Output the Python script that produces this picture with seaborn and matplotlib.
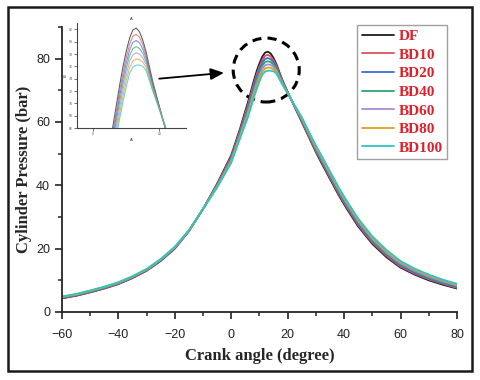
import numpy as np
import pandas as pd
import matplotlib
matplotlib.use("Agg")
import matplotlib.pyplot as plt
from matplotlib.patches import Ellipse, Rectangle
from matplotlib.ticker import MultipleLocator
import seaborn as sns

# crank angle (deg) and cylinder pressure (bar)
angle = [-60, -55, -50, -45, -40, -35, -30, -25, -20, -15, -10, -5, 0, 3, 6, 8, 9,
         10, 11, 12, 13, 14, 15, 16, 18, 21, 25, 28, 30, 32, 35, 38, 41, 45, 50,
         55, 60, 65, 70, 75, 80]

DF = [4.3, 5.1, 6.2, 7.4, 8.8, 10.7, 13.0, 16.1, 20.0, 25.5, 32.5, 40.5, 49.5,
      57.5, 66.5, 73.0, 76.0, 78.5, 80.6, 81.9, 82.2, 81.6, 80.2, 78.3, 73.5,
      67.5, 60.0, 54.3, 50.5, 47.0, 42.0, 37.0, 32.5, 27.0, 21.5, 17.3, 14.0,
      11.8, 10.0, 8.6, 7.4]
BD10 = [4.4, 5.2, 6.3, 7.5, 8.9, 10.8, 13.1, 16.2, 20.1, 25.6, 32.5, 40.3, 49.1,
        57.0, 65.7, 72.1, 75.0, 77.5, 79.6, 80.9, 81.2, 80.7, 79.5, 77.8, 73.2,
        67.5, 60.2, 54.6, 50.8, 47.4, 42.4, 37.4, 32.9, 27.4, 21.9, 17.7, 14.3,
        12.1, 10.3, 8.9, 7.6]
BD20 = [4.5, 5.3, 6.4, 7.6, 9.0, 10.9, 13.2, 16.3, 20.2, 25.6, 32.5, 40.1, 48.7,
        56.5, 64.9, 71.2, 74.1, 76.6, 78.7, 79.9, 80.2, 79.8, 78.8, 77.3, 73.0,
        67.5, 60.5, 54.9, 51.2, 47.8, 42.8, 37.8, 33.3, 27.8, 22.3, 18.1, 14.7,
        12.4, 10.6, 9.1, 7.9]
BD40 = [4.6, 5.4, 6.5, 7.7, 9.1, 11.0, 13.3, 16.4, 20.3, 25.7, 32.5, 39.9, 48.3,
        56.0, 64.1, 70.3, 73.2, 75.7, 77.8, 78.9, 79.2, 78.9, 78.1, 76.8, 72.8,
        67.5, 60.8, 55.2, 51.6, 48.2, 43.2, 38.3, 33.8, 28.3, 22.7, 18.4, 15.1,
        12.8, 10.9, 9.4, 8.2]
BD60 = [4.7, 5.5, 6.6, 7.8, 9.2, 11.1, 13.4, 16.5, 20.4, 25.7, 32.5, 39.7, 47.9,
        55.5, 63.3, 69.4, 72.2, 74.7, 76.8, 77.9, 78.2, 78.0, 77.4, 76.3, 72.5,
        67.5, 61.0, 55.5, 51.9, 48.6, 43.6, 38.7, 34.2, 28.7, 23.1, 18.8, 15.4,
        13.1, 11.2, 9.7, 8.4]
BD80 = [4.8, 5.6, 6.7, 7.9, 9.3, 11.2, 13.5, 16.6, 20.5, 25.8, 32.5, 39.5, 47.5,
        55.0, 62.5, 68.5, 71.2, 73.8, 75.8, 76.9, 77.2, 77.1, 76.7, 75.8, 72.2,
        67.5, 61.2, 55.8, 52.2, 49.0, 44.0, 39.1, 34.6, 29.1, 23.5, 19.2, 15.8,
        13.4, 11.5, 10.0, 8.6]
BD100 = [4.9, 5.7, 6.8, 8.0, 9.4, 11.3, 13.6, 16.7, 20.6, 25.8, 32.5, 39.3, 47.1,
         54.5, 61.7, 67.6, 70.3, 72.8, 74.9, 75.9, 76.2, 76.2, 76.0, 75.3, 72.0,
         67.5, 61.5, 56.1, 52.6, 49.4, 44.4, 39.5, 35.0, 29.5, 23.9, 19.6, 16.1,
         13.7, 11.8, 10.2, 8.9]

fuels = ["DF", "BD10", "BD20", "BD40", "BD60", "BD80", "BD100"]
series = [DF, BD10, BD20, BD40, BD60, BD80, BD100]
colors = ["#1e1e1e", "#e0505a", "#3a6fd8", "#2ea56a", "#a98bd8", "#e0a020", "#2cc6c0"]

df = pd.DataFrame({
    "angle": angle * len(fuels),
    "pressure": [p for s in series for p in s],
    "fuel": [f for f in fuels for _ in angle],
})

sns.set_style("ticks")
plt.rcParams["font.family"] = ["Liberation Sans", "DejaVu Sans"]

fig = plt.figure(figsize=(4.8, 3.8), dpi=100)
ax = fig.add_axes([0.129, 0.179, 0.823, 0.750])

sns.lineplot(data=df, x="angle", y="pressure", hue="fuel", hue_order=fuels,
             palette=colors, linewidth=1.3, ax=ax)

ax.set_xlim(-60, 80)
ax.set_ylim(0, 90)
ax.set_xticks([-60, -40, -20, 0, 20, 40, 60, 80])
ax.set_yticks([0, 20, 40, 60, 80])
ax.xaxis.set_minor_locator(MultipleLocator(10))
ax.yaxis.set_minor_locator(MultipleLocator(10))
ax.tick_params(which="major", length=5, width=1.2, labelsize=9, colors="#222222")
ax.tick_params(axis="x", which="major", pad=7)
ax.tick_params(which="minor", length=3, width=1.1)
for sp in ["left", "bottom"]:
    ax.spines[sp].set_linewidth(1.3)
sns.despine(ax=ax)

ax.set_xlabel("Crank angle (degree)", family="Liberation Serif", fontweight="bold",
              fontsize=12, labelpad=5)
ax.set_ylabel("Cylinder Pressure (bar)", family="Liberation Serif", fontweight="bold",
              fontsize=12, labelpad=3)

leg = ax.legend(loc="upper right", bbox_to_anchor=(0.975, 1.007), borderaxespad=0,
                frameon=True, fancybox=False, edgecolor="#888888",
                prop={"family": "Liberation Serif", "weight": "bold", "size": 11},
                handlelength=2.1, handletextpad=0.3, labelspacing=0.32,
                borderpad=0.3)
leg.get_frame().set_linewidth(1.0)
for t in leg.get_texts():
    t.set_color("#e0202a")

# inset: zoom on the peak
ins = fig.add_axes([0.160, 0.663, 0.227, 0.276])
ins.patch.set_alpha(0)
sns.lineplot(data=df, x="angle", y="pressure", hue="fuel", hue_order=fuels,
             palette=colors, linewidth=0.8, alpha=0.7, legend=False, ax=ins)
ins.set_xlim(-5, 28)
ins.set_ylim(66, 83)
ins.set_xticks([0, 20])
ins.yaxis.set_major_locator(MultipleLocator(2))
ins.tick_params(which="major", length=2, width=0.6, labelsize=2.5, pad=1,
                colors="#555555")
for sp in ["left", "bottom"]:
    ins.spines[sp].set_linewidth(0.8)
    ins.spines[sp].set_color("#444444")
sns.despine(ax=ins)
ins.set_title("A", fontsize=3, pad=2)
ins.set_xlabel("A", fontsize=3, labelpad=1)
ins.set_ylabel("B", fontsize=3, labelpad=1)

# dashed circle round the peak and arrow from the inset
ax.add_patch(Ellipse((12.4, 76.4), 23.4, 20.2, fill=False, edgecolor="black",
                     linestyle=(0, (3, 2)), linewidth=2.2))
ax.annotate("", xy=(-1.6, 75.6), xytext=(-26.5, 73.6),
            arrowprops=dict(arrowstyle="-|>,head_length=0.8,head_width=0.35",
                            color="black", lw=1.3))

# outer frame
fig.patches.append(Rectangle((0.017, 0.024), 0.966, 0.958, transform=fig.transFigure,
                             fill=False, edgecolor="#1a1a1a", linewidth=1.8))

fig.savefig("out.png", dpi=100)
